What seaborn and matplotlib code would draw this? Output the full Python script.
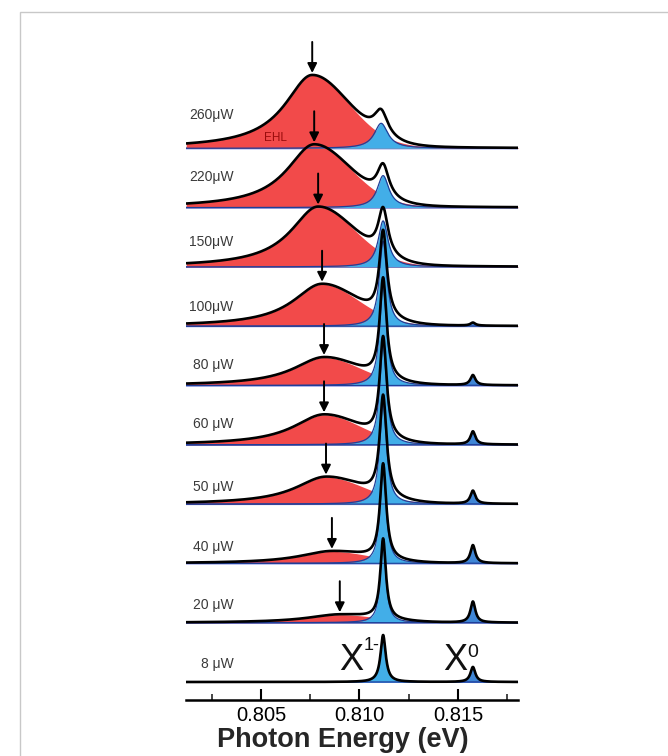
import numpy as np
import pandas as pd
import matplotlib
matplotlib.use("Agg")
import matplotlib.pyplot as plt
import seaborn as sns
from matplotlib.patches import Rectangle
from matplotlib.ticker import MultipleLocator


# excitation powers, bottom trace first
powers = ["8 μW", "20 μW", "40 μW", "50 μW", "60 μW", "80 μW", "100μW", "150μW", "220μW", "260μW"]

# EHL band (red): centre (eV), height (a.u.), low-energy hwhm, high-energy sigma
ehl_center = [0.8090, 0.8090, 0.8086, 0.8083, 0.8082, 0.8082, 0.8081, 0.8079, 0.8077, 0.8076]
ehl_height = [0, 8, 12, 27, 30, 28, 42, 60, 63, 73]
ehl_left = [0.0020, 0.0020, 0.0020, 0.0019, 0.0019, 0.0019, 0.0018, 0.0017, 0.0017, 0.0017]
ehl_right = [0.0020, 0.0020, 0.0020, 0.0020, 0.0019, 0.0019, 0.0019, 0.0019, 0.0019, 0.0019]

# X1- trion line (light blue)
trion_center = [0.8112, 0.8112, 0.8112, 0.8112, 0.8112, 0.8112, 0.8112, 0.8112, 0.8112, 0.8111]
trion_height = [47, 80, 95, 100, 100, 100, 85, 46, 32, 25]
trion_width = [0.00016, 0.00017, 0.00019, 0.00021, 0.00021, 0.00021, 0.00023, 0.00030, 0.00036, 0.00042]

# X0 exciton line (blue)
x0_center = [0.81576, 0.81576, 0.81576, 0.81576, 0.81576, 0.81576, 0.81576, 0.81576, 0.81576, 0.81576]
x0_height = [15, 21, 18, 13, 13, 10, 3, 0, 0, 0]
x0_width = [0.00015, 0.00015, 0.00015, 0.00015, 0.00015, 0.00015, 0.00015, 0.00015, 0.00015, 0.00015]

xticks = [0.805, 0.810, 0.815]
xtick_labels = ["0.805", "0.810", "0.815"]


def lorentz(e, c, h, w):
    return h / (1 + ((e - c) / w) ** 2)


def ehl_band(e, c, h, wl, wr):
    left = h / (1 + ((e - c) / wl) ** 2)
    right = h * (0.85 * np.exp(-(e - c) ** 2 / (2 * wr ** 2)) + 0.15 / (1 + ((e - c) / (1.1 * wr)) ** 2))
    return np.where(e < c, left, right)


sns.set_theme(style="white")
plt.rcParams['font.family'] = ['Liberation Sans', 'DejaVu Sans']

fig = plt.figure(figsize=(6.68, 7.56), dpi=100)
ax = fig.add_axes([186 / 668, 56 / 756, 332 / 668, 662 / 756])

energy = np.linspace(0.8012, 0.8181, 1500)
step = 59.3
label_lift = [18, 18, 16, 17, 21, 20, 19, 25, 31, 33]

for i, name in enumerate(powers):
    off = 18 + i * step
    red = ehl_band(energy, ehl_center[i], ehl_height[i], ehl_left[i], ehl_right[i])
    trion = lorentz(energy, trion_center[i], trion_height[i], trion_width[i])
    x0 = lorentz(energy, x0_center[i], x0_height[i], x0_width[i])
    total = red + trion + x0

    ax.plot(energy, np.full_like(energy, off), color="#5060d4", lw=1.4, zorder=1)
    if ehl_height[i] > 0:
        ax.fill_between(energy, off, off + red, color="#f24a4a", lw=0, zorder=2)
    ax.fill_between(energy, off, off + trion, color="#42aee8", lw=0, zorder=3)
    ax.plot(energy, off + trion, color="#1f3f99", lw=0.9, zorder=4)
    if x0_height[i] > 0:
        ax.fill_between(energy, off, off + x0, color="#3f86d6", lw=0, zorder=3)
        ax.plot(energy, off + x0, color="#1f3f99", lw=0.8, zorder=4)

    df = pd.DataFrame({"energy": energy, "counts": off + total})
    sns.lineplot(data=df, x="energy", y="counts", color="black", lw=1.9, ax=ax, zorder=5)

    ax.text(0.80360, off + label_lift[i], name, ha="right", va="center",
            fontsize=10, color="#3a3a3a")

    if ehl_height[i] > 0:
        c = ehl_center[i]
        top = off + np.interp(c, energy, total) + 2
        ax.annotate("", xy=(c, top), xytext=(c, top + 31),
                    arrowprops=dict(arrowstyle="-|>", color="black", lw=1.4,
                                    mutation_scale=14, shrinkA=0, shrinkB=0),
                    zorder=6)

ax.text(0.80571, 562, "EHL", ha="center", va="center", fontsize=8.5, color="#9a0c0c", zorder=6)
ax.text(0.80898, 30, "X", ha="left", va="baseline", fontsize=26, color="#111111", zorder=7)
ax.text(0.81020, 50, "1-", ha="left", va="baseline", fontsize=13, color="#111111", zorder=7)
ax.text(0.81424, 30, "X", ha="left", va="baseline", fontsize=26, color="#111111", zorder=7)
ax.text(0.81548, 43, "0", ha="left", va="baseline", fontsize=14, color="#111111", zorder=7)

ax.set_xlim(0.80119, 0.81805)
ax.set_ylim(0, 662)
for side in ["left", "right", "top"]:
    ax.spines[side].set_visible(False)
ax.spines["bottom"].set_linewidth(1.8)
ax.spines["bottom"].set_color("black")
ax.set_yticks([])
ax.set_ylabel("")
ax.set_xticks(xticks)
ax.set_xticklabels(xtick_labels)
ax.xaxis.set_minor_locator(MultipleLocator(0.0025))
ax.tick_params(axis="x", which="major", direction="in", length=8, width=1.5,
               labelsize=14.5, pad=4.5, colors="black", bottom=True)
ax.tick_params(axis="x", which="minor", direction="in", length=4, width=1.2, bottom=True)
ax.set_xlabel("Photon Energy (eV)", fontsize=19.5, fontweight="bold", va="top")
ax.xaxis.set_label_coords((343 - 186) / 332, (700 - 727) / 662)

fig.patches.append(Rectangle((19.5 / 668, -0.1), 1.2, (756 - 11.5) / 756 + 0.1,
                             transform=fig.transFigure, fill=False, ec="#c8c8c8", lw=1))

fig.savefig("out.png", dpi=100)
